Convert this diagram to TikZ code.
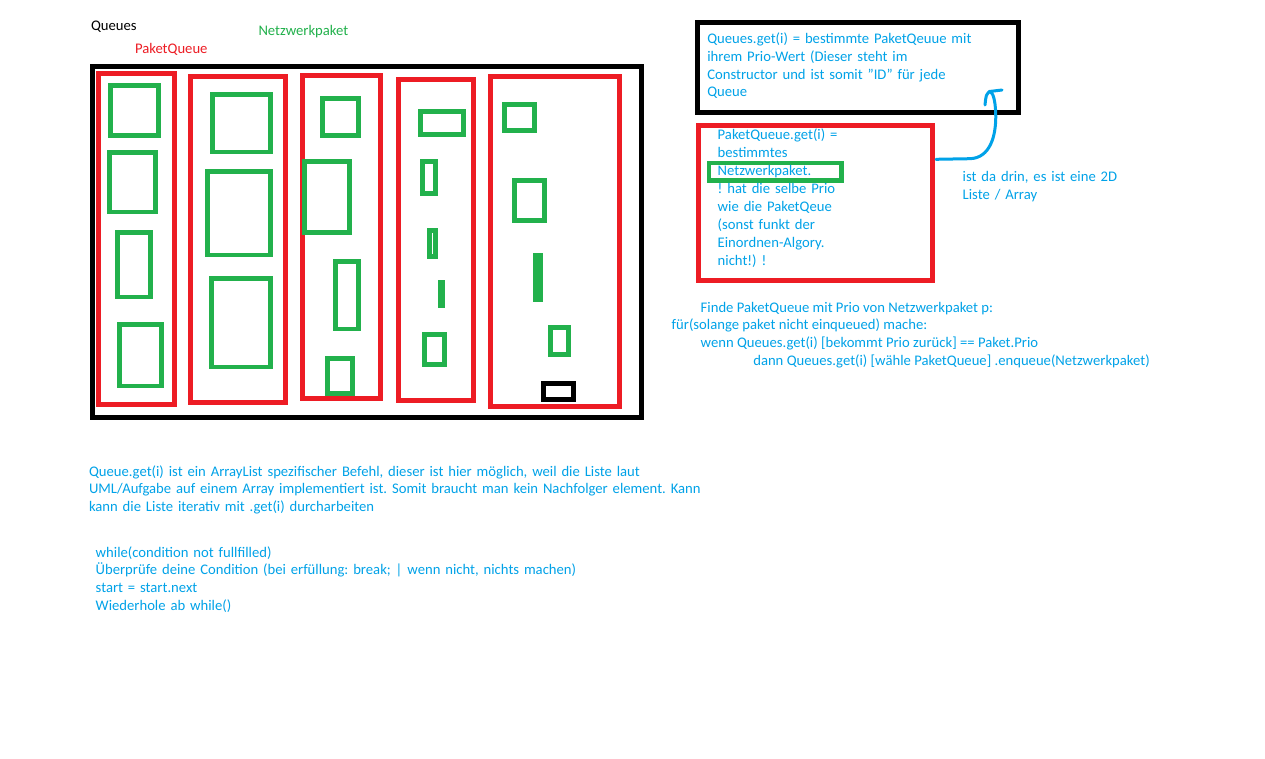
\documentclass[tikz,border=0pt]{standalone}
\usepackage{fontspec}
\setmainfont{Carlito}
\frenchspacing
\definecolor{pred}{HTML}{ED1C24}
\definecolor{pgreen}{HTML}{22B14C}
\definecolor{pblue}{HTML}{00A2E8}
\begin{document}
\begin{tikzpicture}[x=1pt,y=-1pt,
  outerbox/.style={draw=black,line width=5pt},
  pq/.style={draw=pred,line width=5pt},
  np/.style={draw=pgreen,line width=4.6pt},
  npbar/.style={fill=pgreen},
  selbox/.style={draw=black,line width=5pt},
  notebox/.style={rectangle,inner sep=0pt,outer sep=0pt,line width=5pt},
  txt/.style={anchor=base west,inner sep=0pt,outer sep=0pt,align=left,
    font=\fontsize{14.67}{17.9}\selectfont\frenchspacing,text=pblue},
  lbl/.style={anchor=base west,inner sep=0pt,outer sep=0pt,
    font=\fontsize{14.67}{17.9}\selectfont},
  conn/.style={draw=pblue,line width=3pt,line cap=round,line join=round}]
\useasboundingbox[fill=white] (0,0) rectangle (1265,759);

% top labels
\node[lbl,text=black] (lqueues) at (91,30.7) {Queues};
\node[lbl,text=pred] (lpq) at (135,53.5) {PaketQueue};
\node[lbl,text=pgreen] (lnp) at (258.5,36) {Netzwerkpaket};

% outer Queues box
\draw[outerbox] (92.5,66.5) rectangle (641.5,417.5);

% PaketQueues
\draw[pq] (98.3,73.3) rectangle (174.3,404);
\draw[pq] (190.3,76.5) rectangle (285.3,402);
\draw[pq] (302.5,75.7) rectangle (380.3,398.3);
\draw[pq] (398.5,79.5) rectangle (473.3,400);
\draw[pq] (490.5,76.5) rectangle (619.5,406.3);

% Netzwerkpakete column 1
\draw[np] (110.7,85.7) rectangle (158.3,135.3);
\draw[np] (109.7,152.7) rectangle (155.3,212);
\draw[np] (117.5,232.7) rectangle (150.3,297);
\draw[np] (119.7,324.7) rectangle (161.3,386);
% column 2
\draw[np] (212.7,94.7) rectangle (270.3,152);
\draw[np] (207.7,171.7) rectangle (270.3,255);
\draw[np] (211.7,278.7) rectangle (270.3,367);
% column 3
\draw[np] (322.7,98.3) rectangle (358.3,135.3);
\draw[np] (304.7,161.3) rectangle (349.3,232.3);
\draw[np] (335.7,261.7) rectangle (358.3,329);
\draw[np] (327.7,358.3) rectangle (352.3,393.3);
% column 4
\draw[np] (420.7,111.7) rectangle (463.3,134.3);
\draw[np] (422.3,161.3) rectangle (435.3,193.3);
\draw[np] (429.5,230.3) rectangle (435.3,256.3);
\fill[npbar] (438,280) rectangle (444.7,307.7);
\draw[np] (424.3,334.3) rectangle (444.7,364.3);
% column 5
\draw[np] (504.3,104.3) rectangle (534.7,130.3);
\draw[np] (514.3,180.3) rectangle (544.7,220.3);
\fill[npbar] (533,253) rectangle (543,301.7);
\draw[np] (550.3,327.3) rectangle (568.7,354.3);
\draw[selbox] (543.5,383.5) rectangle (573.5,399.2);

% note boxes
\node[notebox,draw=black,minimum width=321.5pt,minimum height=90.5pt] (qbox) at (857.75,67.75) {};
\node[txt,text width=320pt] (qtext) at (707.3,43.3)
  {Queues.get(i) = bestimmte PaketQeuue mit\\
   ihrem Prio-Wert (Dieser steht im\\
   Constructor und ist somit "ID" für jede\\
   Queue};

\node[notebox,draw=pred,minimum width=234pt,minimum height=154.4pt] (pbox) at (815.5,203) {};
\draw[np] (709,163) rectangle (841.7,180.7);
\node[txt,text width=200pt] (ptext) at (717.7,140)
  {PaketQueue.get(i) =\\
   bestimmtes\\
   Netzwerkpaket.\\
   ! hat die selbe Prio\\
   wie die PaketQeue\\
   (sonst funkt der\\
   Einordnen-Algory.\\
   nicht!) !};

% curved connector
\coordinate (ctip) at (989.5,91.5);
\draw[conn] ([shift={(3.5,33.5)}]pbox.north east) -- (970,158.7)
  .. controls (990,158) and (996.5,136) .. (995.7,113)
  .. controls (995.2,100) and (993,92) .. (ctip);
\draw[conn] (ctip) .. controls (986,95) .. (985,105);
\draw[conn] (ctip) -- (1002,90);

\node[txt,text width=200pt] (dtext) at (962.7,181.5)
  {ist da drin, es ist eine 2D\\Liste / Array};

% algorithm text
\node[txt] (a1) at (700.7,312.5) {Finde PaketQueue mit Prio von Netzwerkpaket p:};
\node[txt] (a2) at (671.7,329) {für(solange paket nicht einqueued) mache:};
\node[txt] (a3) at (700.7,347.5) {wenn Queues.get(i) [bekommt Prio zurück] == Paket.Prio};
\node[txt] (a4) at (753.3,365) {dann Queues.get(i) [wähle PaketQueue] .enqueue(Netzwerkpaket)};

% bottom texts
\node[txt,text width=700pt] (btext) at (89,476)
  {Queue.get(i) ist ein ArrayList spezifischer Befehl, dieser ist hier möglich, weil die Liste laut\\
   UML/Aufgabe auf einem Array implementiert ist. Somit braucht man kein Nachfolger element. Kann\\
   kann die Liste iterativ mit .get(i) durcharbeiten};

\node[txt,text width=600pt] (wtext) at (95.7,557)
  {while(condition not fullfilled)\\
   Überprüfe deine Condition (bei erfüllung: break; | wenn nicht, nichts machen)\\
   start = start.next\\
   Wiederhole ab while()};
\end{tikzpicture}
\end{document}
